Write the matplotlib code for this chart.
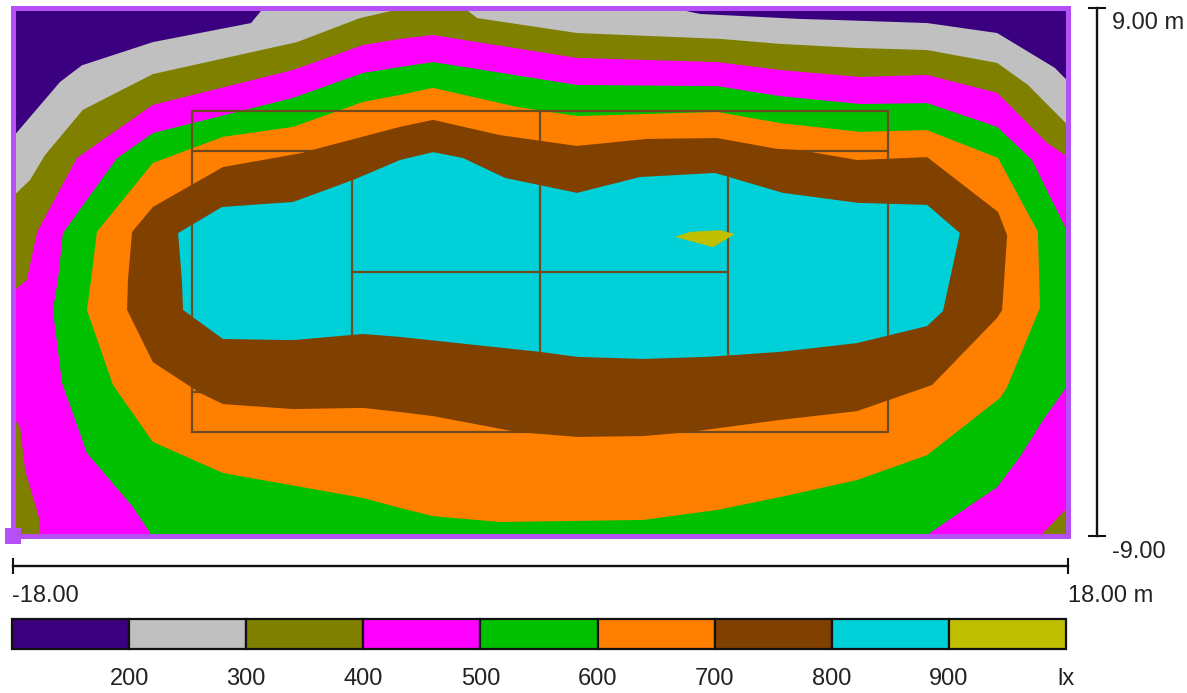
import matplotlib
matplotlib.use("Agg")
import matplotlib.pyplot as plt
from matplotlib.patches import Polygon

plt.rcParams["font.family"] = ["Liberation Sans", "DejaVu Sans"]

# iso-lux outlines in metres, outermost first
grey_x = [-18.1, -16.38, -15.63, -13.21, -9.86, -9.49, -9.42, 4.8, 4.85, 5.46, 8.87, 10.24, 13.21, 15.6, 17.57, 18.1, 18.1, -18.1]
grey_y = [4.45, 6.46, 7.03, 7.82, 8.47, 8.92, 9.2, 9.2, 8.91, 8.78, 8.61, 8.57, 8.47, 8.13, 6.94, 6.4, -9.1, -9.1]

olive_x = [-18.1, -17.4, -16.89, -15.6, -13.21, -8.29, -6.14, -4.95, -4.95, -2.49, -2.49, -2.15, 1.26, 6.14, 8.19, 10.82, 13.21, 15.6, 16.65, 18.1, 18.1, -18.1]
olive_y = [2.45, 3.12, 3.97, 5.51, 6.73, 7.82, 8.64, 8.91, 9.05, 9.05, 8.91, 8.64, 8.13, 7.93, 7.76, 7.62, 7.55, 7.11, 6.36, 4.9, -9.1, -9.1]

magenta_x = [-17.06, -17.06, -17.1, -17.57, -17.74, -17.92, -18.1, -18.1, -17.92, -17.51, -17.16, -15.8, -13.21, -8.43, -6.04, -4.78, -3.65, 1.26, 6.04, 8.19, 10.92, 13.21, 15.6, 17.3, 17.92, 18.1, 18.1, 17.92, 17.17, 17.17]
magenta_y = [-9.1, -8.91, -8.37, -6.77, -5.3, -5.06, -5.06, -0.7, -0.63, -0.29, 1.35, 3.87, 5.68, 6.87, 7.72, 7.93, 8.06, 7.28, 7.14, 6.87, 6.63, 6.7, 6.09, 4.38, 3.97, 3.9, -7.96, -8.13, -8.91, -9.1]

green_x = [-16.45, -16.28, -14.43, -13.21, -8.43, -6.04, -4.78, -3.65, 1.26, 6.04, 8.19, 10.92, 13.21, 15.6, 16.79, 17.92, 18.1, 18.1, 17.17, 16.38, 15.6, 13.31, 13.14, -13.38, -13.31, -13.89, -15.46, -16.31, -16.62]
green_y = [-0.29, 1.31, 3.87, 4.72, 5.92, 6.77, 6.97, 7.14, 6.36, 6.32, 5.98, 5.71, 5.74, 4.93, 3.8, 1.52, 1.1, -3.75, -5.06, -6.32, -7.35, -8.91, -9.1, -9.1, -8.91, -8.03, -6.19, -3.8, -1.31]

orange_x = [-15.32, -15.12, -13.21, -10.82, -8.43, -6.04, -4.78, -3.65, -0.79, 1.26, 6.04, 8.19, 10.92, 13.21, 15.63, 16.99, 17.06, 15.94, 15.7, 13.21, 10.82, 8.19, 6.04, 3.52, -1.37, -3.65, -4.78, -6.04, -10.82, -13.21, -14.57, -15.46]
orange_y = [-0.29, 1.35, 3.7, 4.59, 4.93, 5.78, 6.02, 6.26, 5.61, 5.3, 5.44, 5.06, 4.76, 4.82, 3.87, 1.35, -1.24, -3.94, -4.31, -6.26, -7.11, -7.69, -8.13, -8.47, -8.54, -8.34, -8.06, -7.72, -6.87, -5.81, -3.87, -1.31]

brown_x = [-14.06, -13.92, -13.21, -10.82, -8.12, -7.78, -4.78, -3.65, -1.37, 1.26, 3.65, 6.04, 8.09, 8.87, 10.82, 13.21, 15.63, 15.94, 15.77, 15.6, 13.38, 10.82, 8.19, 5.12, 3.52, 1.26, -0.79, -3.65, -4.78, -6.04, -8.43, -10.82, -11.6, -13.21, -14.09]
brown_y = [-0.29, 1.35, 2.2, 3.56, 4.04, 4.14, 4.93, 5.17, 4.65, 4.28, 4.52, 4.55, 4.18, 4.14, 3.8, 3.9, 2.03, 1.24, -1.31, -1.58, -3.87, -4.76, -5.06, -5.47, -5.61, -5.64, -5.47, -4.93, -4.79, -4.65, -4.69, -4.52, -4.14, -3.09, -1.31]

cyan_x = [-12.22, -12.35, -10.85, -8.43, -6.38, -4.78, -3.65, -2.63, -1.19, 1.26, 3.41, 5.97, 8.29, 10.85, 13.21, 14.33, 13.75, 13.21, 10.82, 8.19, 5.7, 3.52, 1.26, 0.0, -4.78, -6.04, -8.43, -10.82, -12.18]
cyan_y = [-0.29, 1.31, 2.2, 2.37, 3.12, 3.8, 4.07, 3.87, 3.19, 2.68, 3.22, 3.36, 2.68, 2.34, 2.27, 1.31, -1.35, -1.86, -2.44, -2.74, -2.91, -2.98, -2.91, -2.74, -2.23, -2.13, -2.34, -2.3, -1.31]

yellow_x = [4.61, 5.12, 6.14, 6.65, 6.31, 5.9]
yellow_y = [1.18, 1.35, 1.41, 1.28, 1.07, 0.83]

# tennis court markings, metres
court_half_length = 11.885
court_half_width = 5.485
singles_half_width = 4.115
service_x = 6.4

# colour scale
levels = [100, 200, 300, 400, 500, 600, 700, 800, 900]
level_colors = ["#3a007f", "#c0c0c0", "#808000", "#ff00ff", "#00c000", "#ff8000", "#804000", "#00d0d8", "#c0c000"]
tick_values = [200, 300, 400, 500, 600, 700, 800, 900, 1000]
tick_labels = ["200", "300", "400", "500", "600", "700", "800", "900", "lx"]

W, H = 1187, 693
FRAME = "#b450f5"
LINE = "#6e4a20"
INK = "#222222"
FS = 17


def draw_court(ax, clip=None):
    L, D, S, V = court_half_length, court_half_width, singles_half_width, service_x
    segs = [
        ([-L, L, L, -L, -L], [-D, -D, D, D, -D]),
        ([-L, L], [S, S]),
        ([-L, L], [-S, -S]),
        ([-V, -V], [-S, S]),
        ([V, V], [-S, S]),
        ([-V, V], [0, 0]),
        ([0, 0], [-D, D]),
    ]
    for xs, ys in segs:
        line, = ax.plot(xs, ys, color=LINE, lw=1.6, zorder=5 if clip is None else 8)
        if clip is not None:
            line.set_clip_path(clip)


fig = plt.figure(figsize=(W / 100, H / 100), dpi=100)
ax = fig.add_axes([12.5 / W, (H - 535.5) / H, 1055 / W, 528 / H])
ax.set_xlim(-18, 18)
ax.set_ylim(-9, 9)
ax.set_xticks([])
ax.set_yticks([])
ax.set_facecolor(level_colors[0])
for s in ax.spines.values():
    s.set_color(FRAME)
    s.set_linewidth(3.6)
    s.set_zorder(12)

# lower bands, then the court, then the two top bands that hide it
lower = [(grey_x, grey_y, 1), (olive_x, olive_y, 2), (magenta_x, magenta_y, 3),
         (green_x, green_y, 4), (orange_x, orange_y, 5)]
for xs, ys, i in lower:
    ax.fill(xs, ys, color=level_colors[i], lw=0, zorder=1 + i * 0.1)
draw_court(ax)
ax.fill(brown_x, brown_y, color=level_colors[6], lw=0, zorder=6)
cyan = Polygon(list(zip(cyan_x, cyan_y)), closed=True, color=level_colors[7], lw=0, zorder=7)
ax.add_patch(cyan)
draw_court(ax, clip=cyan)
ax.fill(yellow_x, yellow_y, color=level_colors[8], lw=0, zorder=9)

# corner marker
ax.plot([-18], [-9], marker="s", ms=11.5, color=FRAME, mew=0, clip_on=False, zorder=13)

# scale bars
ax.plot([-18, 18], [-10.04, -10.04], color="#111111", lw=1.7, marker="|", ms=11.5, mew=1.5, clip_on=False)
ax.plot([19.0, 19.0], [-9, 9], color="#111111", lw=1.7, marker="_", ms=12.5, mew=1.5, clip_on=False)
ax.set_xlim(-18, 18)
ax.set_ylim(-9, 9)

ax.text(19.52, 8.47, "9.00 m", fontsize=FS, color=INK, va="center", ha="left")
ax.text(19.52, -9.55, "-9.00", fontsize=FS, color=INK, va="center", ha="left")
ax.text(-18.02, -11.05, "-18.00", fontsize=FS, color=INK, va="center", ha="left")
ax.text(18.02, -11.05, "18.00 m", fontsize=FS, color=INK, va="center", ha="left")

# legend strip
cax = fig.add_axes([12 / W, (H - 649) / H, 1054 / W, 30 / H])
cax.bar(levels, [1] * len(levels), width=100, align="edge", color=level_colors,
        edgecolor="#111111", linewidth=1.6, clip_on=False)
cax.set_xlim(100, 1000)
cax.set_ylim(0, 1)
cax.set_yticks([])
cax.set_xticks(tick_values)
cax.set_xticklabels(tick_labels, fontsize=FS, color=INK)
cax.tick_params(axis="x", length=0, pad=14)
for s in cax.spines.values():
    s.set_visible(False)

fig.savefig("out.png", dpi=100)
